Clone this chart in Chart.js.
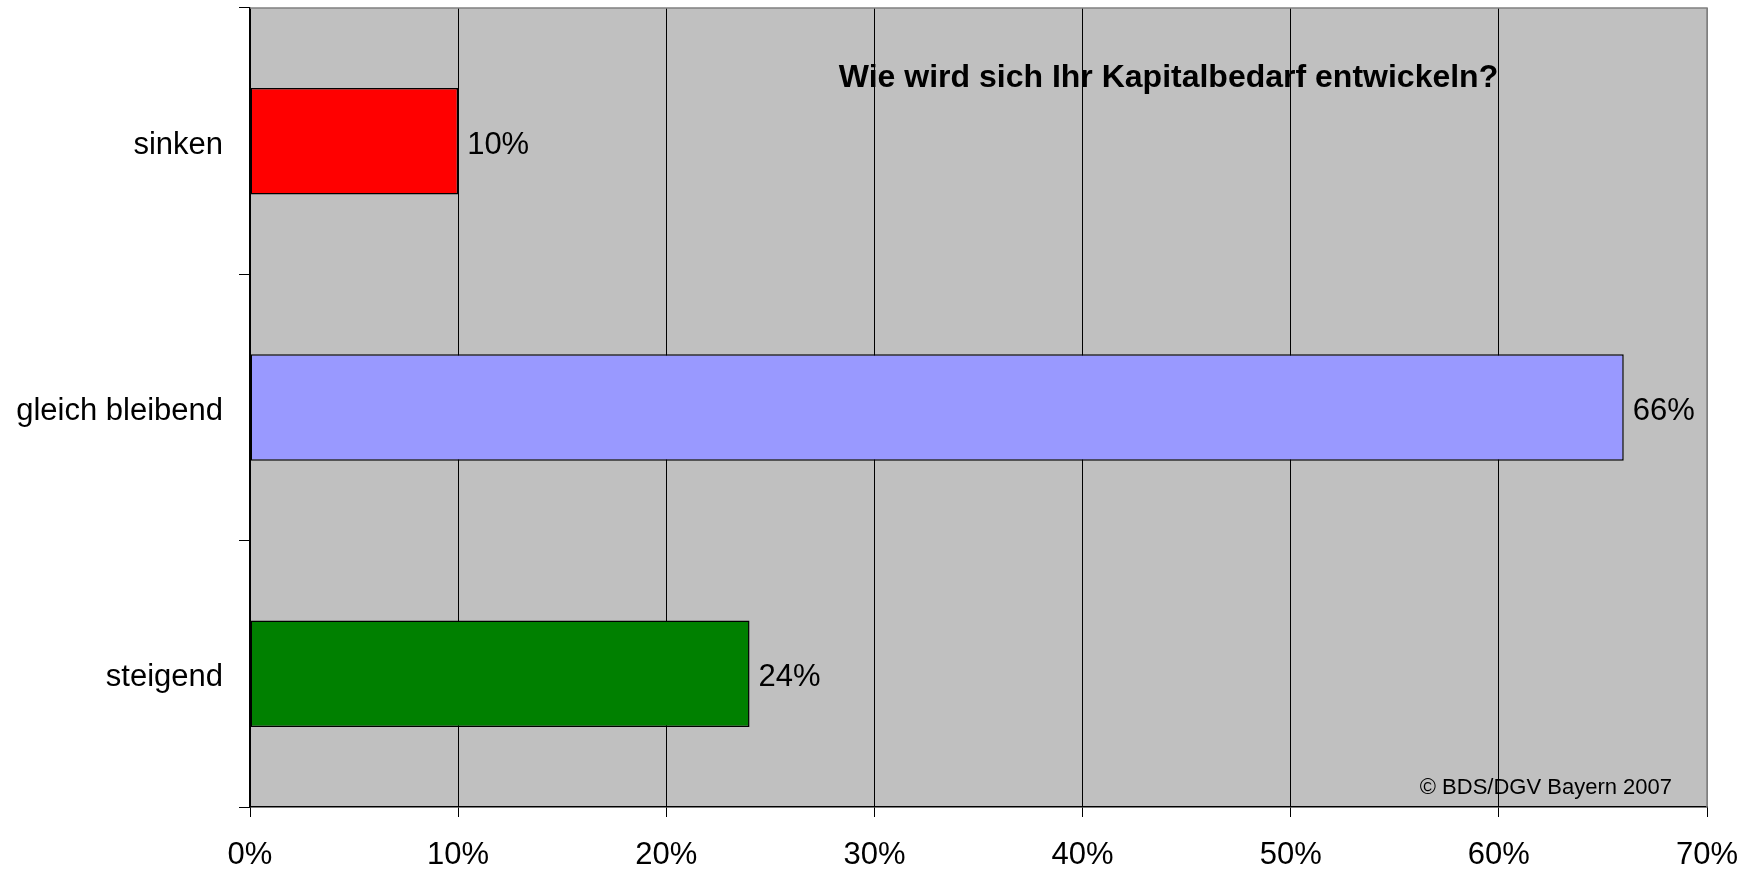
<!DOCTYPE html>
<html>
<head>
<meta charset="utf-8">
<script src="https://cdn.jsdelivr.net/npm/chart.js@4/dist/chart.umd.min.js"></script>
<style>
  html, body { margin: 0; padding: 0; background: #fff; }
  #wrap { width: 1753px; height: 870px; position: relative; }
</style>
</head>
<body>
<div id="wrap"><canvas id="c"></canvas></div>
<script>
const categories = ['sinken', 'gleich bleibend', 'steigend'];
const values = [10, 66, 24];
const barColors = ['#FF0000', '#9999FF', '#008000'];
const xTickValues = [0, 10, 20, 30, 40, 50, 60, 70];
const titleText = 'Wie wird sich Ihr Kapitalbedarf entwickeln?';
const sourceText = '\u00A9 BDS/DGV Bayern 2007';

const FONT = '"Liberation Sans", Arial, Helvetica, sans-serif';

const bgPlugin = {
  id: 'bg',
  beforeDraw(chart) {
    const { ctx, chartArea: a } = chart;
    ctx.save();
    ctx.fillStyle = '#FFFFFF';
    ctx.fillRect(0, 0, chart.width, chart.height);
    ctx.fillStyle = '#C0C0C0';
    ctx.fillRect(a.left, a.top, a.right - a.left, a.bottom - a.top);
    ctx.restore();
  },
  afterDraw(chart) {
    const { ctx, chartArea: a } = chart;
    ctx.save();
    ctx.strokeStyle = '#808080';
    ctx.lineWidth = 1.5;
    ctx.beginPath();
    ctx.moveTo(a.left, a.top);
    ctx.lineTo(a.right, a.top);
    ctx.lineTo(a.right, a.bottom);
    ctx.stroke();
    ctx.restore();
  }
};

const labelPlugin = {
  id: 'labels',
  afterDatasetsDraw(chart) {
    const { ctx } = chart;
    const meta = chart.getDatasetMeta(0);
    ctx.save();
    ctx.fillStyle = '#000';
    ctx.font = '31px ' + FONT;
    ctx.textAlign = 'left';
    ctx.textBaseline = 'middle';
    meta.data.forEach((el, i) => {
      ctx.fillText(values[i] + '%', el.x + 9, el.y + 4);
    });
    // title
    ctx.font = 'bold 32px ' + FONT;
    ctx.textBaseline = 'alphabetic';
    ctx.textAlign = 'center';
    ctx.fillText(titleText, 1168.5, 87);
    // source
    ctx.font = '22px ' + FONT;
    ctx.textAlign = 'right';
    ctx.textBaseline = 'middle';
    ctx.fillText(sourceText, 1672, 788);
    ctx.restore();
  }
};

new Chart(document.getElementById('c'), {
  type: 'bar',
  data: {
    labels: categories,
    datasets: [{
      data: values,
      backgroundColor: barColors,
      borderColor: '#000000',
      borderWidth: 1.5,
      borderSkipped: false,
      categoryPercentage: 1.0,
      barPercentage: 0.4
    }]
  },
  options: {
    indexAxis: 'y',
    responsive: true,
    maintainAspectRatio: false,
    animation: false,
    layout: { padding: { left: 0, top: 8, right: 46, bottom: 0 } },
    plugins: {
      legend: { display: false },
      title: { display: false },
      tooltip: { enabled: false }
    },
    scales: {
      x: {
        type: 'linear',
        min: 0,
        max: 70,
        afterBuildTicks(scale) {
          scale.ticks = xTickValues.map(v => ({ value: v }));
        },
        afterFit(scale) {
          scale.height = 63;
          scale.paddingLeft = 0; scale.paddingRight = 0;
          scale.paddingTop = 0; scale.paddingBottom = 0;
        },
        ticks: {
          color: '#000',
          font: { family: FONT, size: 31 },
          padding: 20,
          maxRotation: 0,
          callback: v => v + '%'
        },
        grid: {
          display: true,
          drawOnChartArea: true,
          drawTicks: true,
          tickLength: 10,
          lineWidth: 1,
          color: ctx => (ctx.tick && ctx.tick.value === 70) ? '#808080' : '#000000',
          tickColor: '#000000'
        },
        border: { display: true, color: '#000000', width: 1.5 }
      },
      y: {
        type: 'category',
        afterFit(scale) {
          scale.width = 250;
          scale.paddingTop = 0; scale.paddingBottom = 0;
          scale.paddingLeft = 0; scale.paddingRight = 0;
        },
        ticks: {
          color: '#000',
          font: { family: FONT, size: 31 },
          padding: 16,
          labelOffset: 4
        },
        grid: {
          display: true,
          offset: true,
          drawOnChartArea: false,
          drawTicks: true,
          tickLength: 11,
          color: '#000000',
          tickColor: '#000000'
        },
        border: { display: true, color: '#000000', width: 1.5 }
      }
    }
  },
  plugins: [bgPlugin, labelPlugin]
});
</script>
</body>
</html>
